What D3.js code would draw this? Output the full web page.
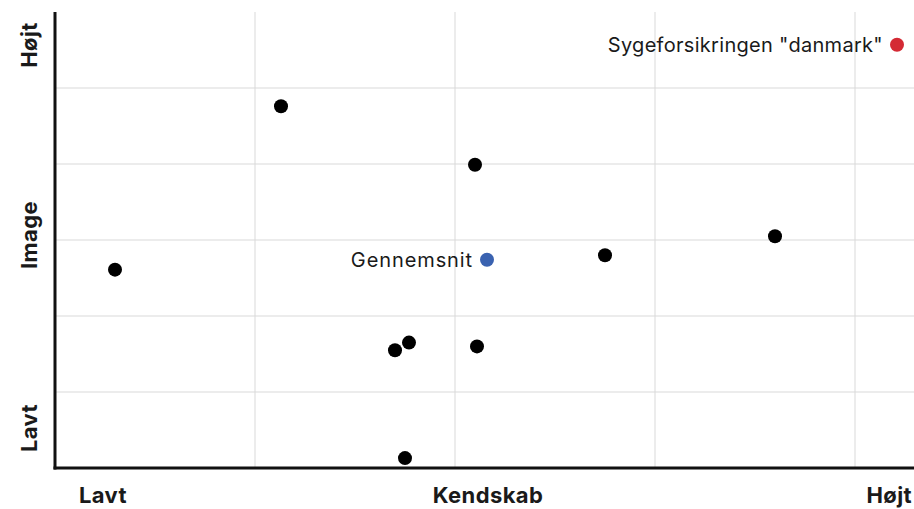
<!DOCTYPE html>
<html>
<head>
<meta charset="utf-8">
<script src="https://cdn.jsdelivr.net/npm/d3@7"></script>
<style>
  body { margin: 0; background: #fff; }
  svg { display: block; font-family: Inter, "Noto Sans", sans-serif; }
</style>
</head>
<body>
<svg id="chart" width="914" height="509"></svg>
<script>
// brands: kendskab (x) and image (y), 0..6 scale
const kendskab = [0.30, 1.13, 2.10, 2.75, 3.60, 1.70, 1.77, 2.11, 1.75];
const image = [2.61, 4.76, 3.99, 2.80, 3.05, 1.55, 1.65, 1.60, 0.13];

const highlight = [
    { name: 'Sygeforsikringen "danmark"', x: 4.21, y: 5.57, color: "#d42a34" },
    { name: "Gennemsnit", x: 2.16, y: 2.74, color: "#3a62b0" }
];

const xTicks = [1, 2, 3, 4];
const yTicks = [1, 2, 3, 4, 5];
const xLabels = ["Lavt", "Kendskab", "Højt"];
const yLabels = ["Lavt", "Image", "Højt"];

const svg = d3.select("#chart");
const x = d3.scaleLinear().domain([0, 4.295]).range([55, 914]);
const y = d3.scaleLinear().domain([0, 6]).range([468, 12]);

// grid
svg.append("g").selectAll("line")
    .data(xTicks).join("line")
    .attr("x1", d => x(d)).attr("x2", d => x(d))
    .attr("y1", y(6)).attr("y2", y(0))
    .attr("stroke", "#d9d9d9").attr("stroke-width", 1);
svg.append("g").selectAll("line")
    .data(yTicks).join("line")
    .attr("x1", x(0)).attr("x2", 914)
    .attr("y1", d => y(d)).attr("y2", d => y(d))
    .attr("stroke", "#d9d9d9").attr("stroke-width", 1);

// axes lines
svg.append("line")
    .attr("x1", x(0)).attr("x2", x(0)).attr("y1", y(6)).attr("y2", y(0) + 1.5)
    .attr("stroke", "#111").attr("stroke-width", 3);
svg.append("line")
    .attr("x1", x(0) - 1.5).attr("x2", 914).attr("y1", y(0)).attr("y2", y(0))
    .attr("stroke", "#111").attr("stroke-width", 3);

// points
svg.append("g").selectAll("circle")
    .data(kendskab).join("circle")
    .attr("cx", d => x(d))
    .attr("cy", (d, i) => y(image[i]))
    .attr("r", 7)
    .attr("fill", "#000");

svg.append("g").selectAll("circle")
    .data(highlight).join("circle")
    .attr("cx", d => x(d.x)).attr("cy", d => y(d.y))
    .attr("r", 7).attr("fill", d => d.color);

svg.append("g").selectAll("text")
    .data(highlight).join("text")
    .attr("x", d => x(d.x) - 14).attr("y", d => y(d.y) + 7)
    .attr("text-anchor", "end")
    .attr("font-size", 20)
    .attr("letter-spacing", (d, i) => i ? 0.9 : 0.3)
    .attr("fill", "#1a1a1a")
    .text(d => d.name);

// axis titles
const xPos = [103, 488, 912];
const xAnchor = ["middle", "middle", "end"];
svg.append("g").selectAll("text")
    .data(xLabels).join("text")
    .attr("x", (d, i) => xPos[i]).attr("y", 503)
    .attr("text-anchor", (d, i) => xAnchor[i])
    .attr("font-size", 22).attr("font-weight", 700).attr("fill", "#1a1a1a")
    .attr("letter-spacing", 0.4)
    .text(d => d);

const yPos = [428, 235, 45];
svg.append("g").selectAll("text")
    .data(yLabels).join("text")
    .attr("transform", (d, i) => `translate(37,${yPos[i]}) rotate(-90)`)
    .attr("text-anchor", "middle")
    .attr("font-size", 22).attr("font-weight", 700).attr("fill", "#1a1a1a")
    .attr("letter-spacing", 0.4)
    .text(d => d);
</script>
</body>
</html>
